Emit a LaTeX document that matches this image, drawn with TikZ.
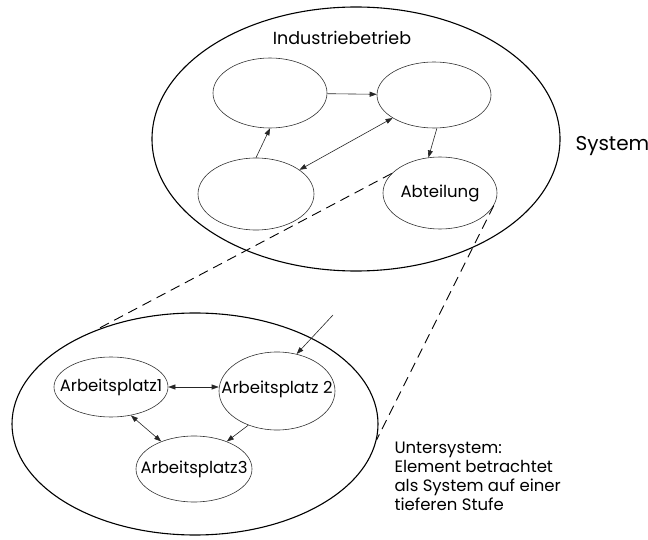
\documentclass[tikz,border=0pt]{standalone}
\usepackage{fontspec}
\setmainfont{Poppins}
\usetikzlibrary{shapes.geometric,arrows.meta,calc}
\begin{document}
\begin{tikzpicture}[x=1pt,y=-1pt,
  font=\fontsize{16.5}{19}\selectfont,
  outer/.style={ellipse,draw=black,line width=1.1pt,inner sep=0pt},
  inner/.style={ellipse,draw=black!80,line width=0.6pt,inner sep=0pt},
  arr/.style={draw=black!85,line width=0.6pt,-{Triangle[length=7pt,width=5pt]}},
  dbl/.style={draw=black!85,line width=0.6pt,{Triangle[length=7pt,width=5pt]}-{Triangle[length=7pt,width=5pt]}},
  zoomline/.style={draw=black,line width=0.9pt,dash pattern=on 10pt off 6pt}]
\useasboundingbox (0,0) rectangle (648,540);

% the whole system
\node[outer,minimum width=408pt,minimum height=264pt] (sys) at (356,139) {};
\node[font=\fontsize{17.5}{20}\selectfont] (title) at (342,38) {Industriebetrieb};
\node[inner,minimum width=114pt,minimum height=70pt] (tl) at (270,93) {};
\node[inner,minimum width=114pt,minimum height=66pt] (tr) at (434,95) {};
\node[inner,minimum width=116pt,minimum height=72pt] (bl) at (256,194) {};
\node[inner,minimum width=114pt,minimum height=72pt,label=center:Abteilung] (ab) at (440,193) {};
\node[anchor=base west,font=\fontsize{20}{24}\selectfont] (systxt) at (572,151) {System};

\draw[arr] (tl) -- (tr);
\draw[arr] (bl.north) -- (tl.south);
\draw[dbl] (bl) -- (tr);
\draw[arr] (tr.-85) -- (ab.108);

% the department seen as a subsystem
\node[outer,minimum width=366pt,minimum height=222pt] (sub) at (195,424) {};
\node[inner,minimum width=114pt,minimum height=60pt,label=center:Arbeitsplatz1] (ap1) at (111,387) {};
\node[inner,minimum width=116pt,minimum height=78pt,label={[yshift=2pt]center:Arbeitsplatz 2}] (ap2) at (277,391) {};
\node[inner,minimum width=116pt,minimum height=66pt,label=center:Arbeitsplatz3] (ap3) at (194,469) {};
\coordinate (src) at (333,315);

\draw[dbl] (ap1.east) -- (ap1.east -| ap2.west);
\draw[dbl] (ap1.-55) -- (ap3.140);
\draw[arr] (ap2.230) -- (ap3.40);
\draw[arr] (src) -- (ap2.62);

% zoom lines from the department to the subsystem
\draw[zoomline] (ab.158) -- (sub.137);
\draw[zoomline] (ab.-13) -- (sub.-5);

% the note's last baseline sits at y = 510
\node[anchor=base west,align=left] (note) at (391,510)
  {Untersystem:\\Element betrachtet\\als System auf einer\\tieferen Stufe};
\end{tikzpicture}
\end{document}
